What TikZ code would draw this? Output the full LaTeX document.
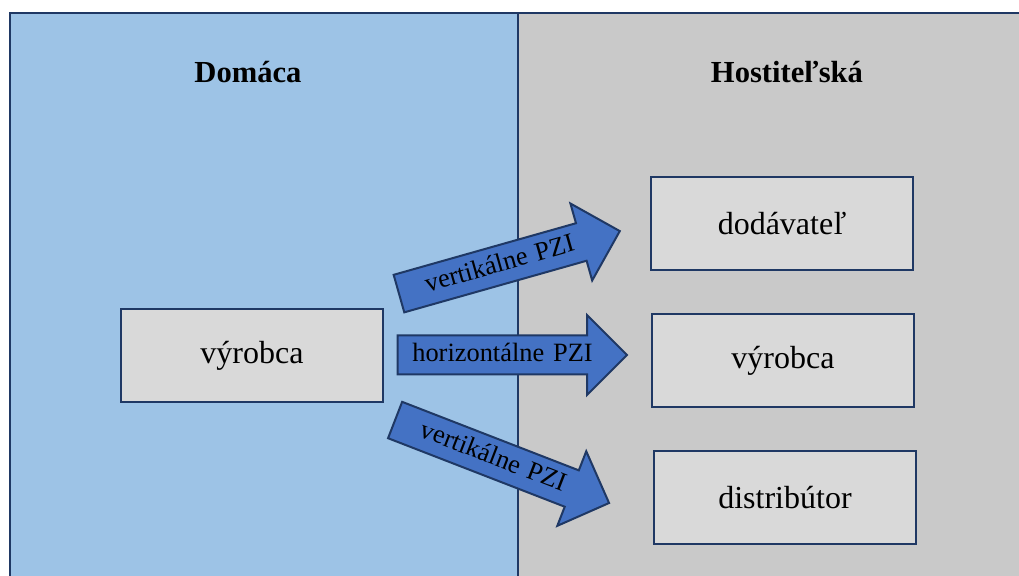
\documentclass[tikz,border=0pt]{standalone}
\usepackage{fontspec}
\setmainfont{Liberation Serif}
\usetikzlibrary{shapes.arrows}
\definecolor{domblue}{HTML}{9DC3E6}
\definecolor{hostgray}{HTML}{C9C9C9}
\definecolor{boxgray}{HTML}{D9D9D9}
\definecolor{navy}{HTML}{1F3864}
\definecolor{pziblue}{HTML}{4472C4}

\begin{document}
\begin{tikzpicture}[x=0.5pt,y=-0.5pt,
firm/.style={draw=navy,line width=1pt,fill=boxgray,minimum width=131pt,minimum height=46.5pt,font=\fontsize{16}{19}\selectfont},
pzi/.style={single arrow,draw=navy,line width=1pt,fill=pziblue,single arrow head extend=10.25pt,single arrow tip angle=90,single arrow head indent=0pt,text width=99pt,align=center,inner xsep=2.5pt,inner ysep=3pt,text height=9.5pt,text depth=3pt,font=\fontsize{13.2}{15}\selectfont},
head/.style={font=\fontsize{15.3}{18}\selectfont\bfseries}]
\useasboundingbox (0,0) rectangle (1019,576);
\clip (0,0) rectangle (1019,576);
\fill[white] (0,0) rectangle (1019,576);
% the two countries
\filldraw[fill=domblue,draw=navy,line width=1pt] (10,13) rectangle (518,600);
\filldraw[fill=hostgray,draw=navy,line width=1pt] (518,13) rectangle (1040,600);
\node[head] (dom) at (248,72) {Domáca};
\node[head] (host) at (787,72) {Hostiteľská};
% firms
\node[firm] (vyr) at (252,356) {výrobca};
\node[firm] (dod) at (782,224) {dodávateľ};
\node[firm] (vyr2) at (783,361) {výrobca};
\node[firm] (dist) at (785,498) {distribútor};
% investments
\node[pzi,rotate=15.8] (vert1) at (500,265) {vertikálne PZI};
\node[pzi] (hor) at (502.5,355) {horizontálne PZI};
\node[pzi,rotate=-21.2] (vert2) at (493,458) {vertikálne PZI};
\end{tikzpicture}
\end{document}
